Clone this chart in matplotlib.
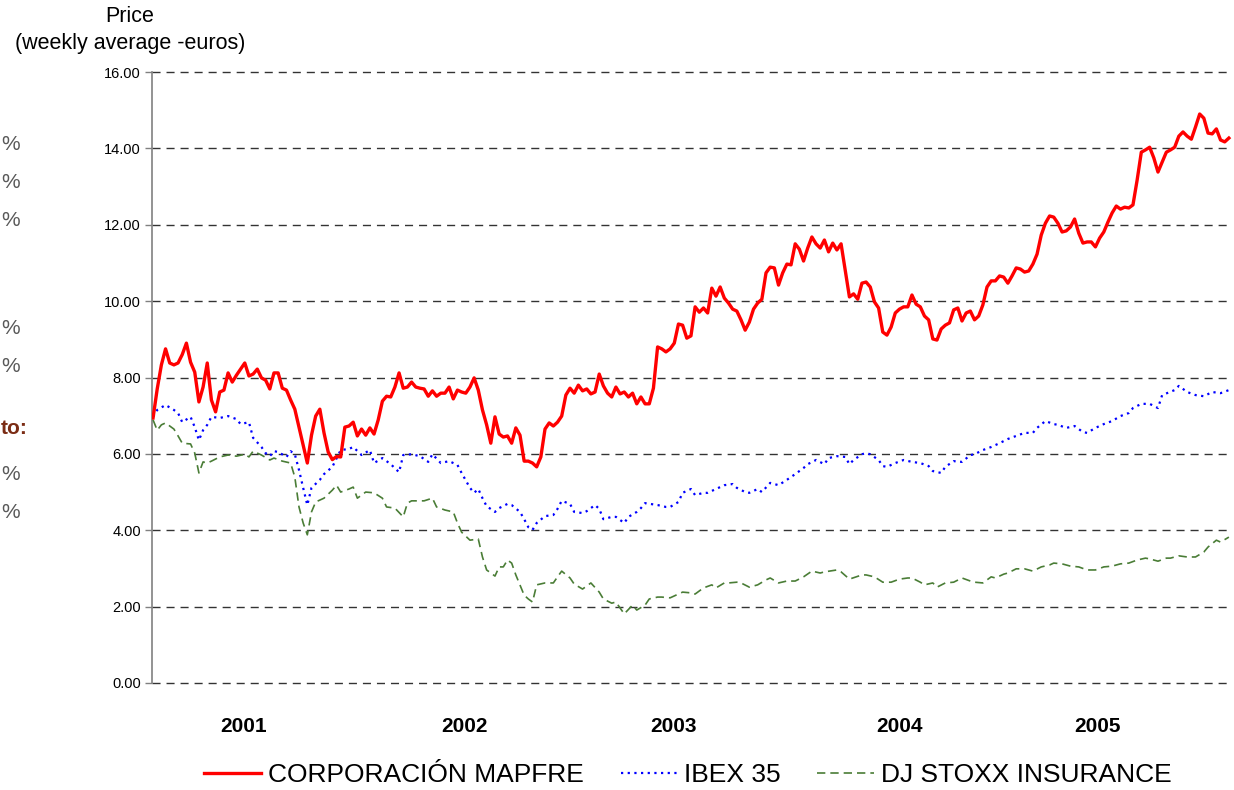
import matplotlib
matplotlib.use("Agg")
import matplotlib.pyplot as plt
from matplotlib.lines import Line2D

plt.rcParams['font.family'] = ['Liberation Sans', 'DejaVu Sans']

# ---------------- data (weekly index from first week of 2001) ----------------
mapfre = [6.94, 7.70, 8.33, 8.75, 8.38, 8.33, 8.38, 8.60, 8.90, 8.40,
          8.14, 7.36, 7.75, 8.38, 7.41, 7.10, 7.62, 7.67, 8.12, 7.88,
          8.06, 8.22, 8.38, 8.04, 8.09, 8.22, 7.99, 7.93, 7.70, 8.12,
          8.12, 7.72, 7.67, 7.41, 7.17, 6.70, 6.23, 5.76, 6.49, 6.99,
          7.17, 6.55, 6.05, 5.85, 5.93, 5.92, 6.70, 6.73, 6.83, 6.47,
          6.65, 6.49, 6.68, 6.52, 6.89, 7.38, 7.51, 7.49, 7.75, 8.12,
          7.72, 7.75, 7.88, 7.75, 7.72, 7.70, 7.51, 7.65, 7.51, 7.59,
          7.59, 7.75, 7.44, 7.67, 7.62, 7.59, 7.75, 7.99, 7.67, 7.15,
          6.76, 6.28, 6.97, 6.52, 6.44, 6.47, 6.28, 6.68, 6.49, 5.81,
          5.81, 5.76, 5.66, 5.92, 6.65, 6.81, 6.73, 6.83, 6.99, 7.54,
          7.72, 7.59, 7.80, 7.65, 7.70, 7.57, 7.62, 8.09, 7.78, 7.59,
          7.49, 7.75, 7.57, 7.62, 7.49, 7.59, 7.31, 7.49, 7.31, 7.31,
          7.72, 8.80, 8.75, 8.67, 8.75, 8.90, 9.40, 9.37, 9.03, 9.09,
          9.85, 9.71, 9.82, 9.69, 10.34, 10.13, 10.37, 10.08, 9.95, 9.79,
          9.74, 9.51, 9.24, 9.45, 9.79, 9.95, 10.05, 10.74, 10.89, 10.87,
          10.42, 10.74, 10.97, 10.95, 11.50, 11.36, 11.05, 11.39, 11.68, 11.50,
          11.39, 11.60, 11.29, 11.52, 11.34, 11.50, 10.81, 10.11, 10.19, 10.05,
          10.47, 10.50, 10.37, 9.98, 9.82, 9.19, 9.11, 9.32, 9.69, 9.79,
          9.85, 9.85, 10.16, 9.92, 9.85, 9.61, 9.51, 9.01, 8.98, 9.27,
          9.37, 9.43, 9.77, 9.82, 9.48, 9.69, 9.74, 9.51, 9.61, 9.90,
          10.37, 10.53, 10.53, 10.66, 10.63, 10.47, 10.66, 10.87, 10.84, 10.76,
          10.79, 10.97, 11.23, 11.73, 12.04, 12.23, 12.20, 12.04, 11.81, 11.84,
          11.94, 12.15, 11.78, 11.52, 11.55, 11.55, 11.42, 11.65, 11.81, 12.07,
          12.31, 12.49, 12.41, 12.46, 12.44, 12.52, 13.17, 13.90, 13.96, 14.03,
          13.75, 13.38, 13.64, 13.90, 13.96, 14.03, 14.32, 14.43, 14.32, 14.24,
          14.56, 14.90, 14.79, 14.40, 14.38, 14.51, 14.22, 14.17, 14.27]
mapfre_weeks = list(range(len(mapfre)))

ibex_weeks = [0, 1, 3, 5, 6, 7, 9, 10, 11, 12, 13, 14, 16, 18, 20, 21, 23, 24, 26, 27,
              28, 29, 30, 32, 33, 34, 35, 36, 37, 38, 40, 41, 43, 45, 47, 48, 50, 52, 53, 55,
              57, 59, 60, 62, 64, 66, 67, 69, 71, 73, 74, 76, 77, 78, 79, 80, 82, 83, 85, 86,
              88, 89, 90, 91, 92, 94, 96, 97, 98, 100, 101, 103, 104, 106, 107, 108, 110, 111, 113, 114,
              116, 117, 118, 121, 123, 124, 126, 127, 129, 130, 132, 133, 135, 137, 139, 140, 142, 143, 145, 146,
              148, 150, 152, 154, 156, 157, 159, 161, 162, 164, 166, 167, 168, 170, 171, 172, 174, 175, 176, 178,
              180, 182, 184, 186, 187, 189, 190, 192, 194, 196, 197, 199, 201, 203, 205, 207, 209, 211, 212, 214,
              216, 217, 219, 221, 223, 224, 226, 228, 230, 232, 234, 235, 237, 239, 241, 242, 245, 246, 248, 250,
              252, 254, 256, 258]
ibex = [6.97, 7.15, 7.28, 7.15, 7.07, 6.83, 6.97, 6.70, 6.36, 6.62, 6.76, 6.97, 6.94, 6.99, 6.91, 6.78, 6.83, 6.42, 6.18, 6.02,
        5.94, 6.07, 6.05, 5.92, 6.07, 5.99, 5.58, 5.11, 4.66, 5.11, 5.32, 5.47, 5.66, 6.10, 6.13, 6.18, 5.97, 6.10, 5.76, 5.89,
        5.73, 5.52, 5.97, 5.99, 5.94, 5.79, 5.99, 5.76, 5.81, 5.71, 5.50, 5.11, 4.98, 5.08, 4.84, 4.63, 4.48, 4.58, 4.69, 4.66,
        4.48, 4.29, 4.08, 4.01, 4.19, 4.37, 4.40, 4.56, 4.77, 4.69, 4.48, 4.45, 4.50, 4.66, 4.56, 4.29, 4.35, 4.35, 4.19, 4.35,
        4.48, 4.58, 4.71, 4.66, 4.61, 4.61, 4.74, 4.98, 5.08, 4.92, 4.98, 4.98, 5.08, 5.18, 5.21, 5.11, 5.00, 4.98, 5.08, 5.00,
        5.24, 5.18, 5.32, 5.47, 5.63, 5.73, 5.84, 5.73, 5.89, 5.94, 5.92, 5.73, 5.84, 5.99, 6.02, 5.99, 5.84, 5.68, 5.66, 5.76,
        5.84, 5.79, 5.76, 5.68, 5.55, 5.50, 5.66, 5.81, 5.79, 5.97, 5.99, 6.10, 6.18, 6.28, 6.39, 6.47, 6.55, 6.55, 6.68, 6.86,
        6.78, 6.76, 6.68, 6.73, 6.57, 6.55, 6.68, 6.78, 6.86, 6.99, 7.07, 7.20, 7.31, 7.31, 7.20, 7.54, 7.67, 7.78, 7.62, 7.54,
        7.51, 7.62, 7.59, 7.67]

stoxx_weeks = [0, 1, 2, 3, 5, 6, 7, 9, 10, 11, 12, 13, 14, 16, 18, 20, 22, 23, 24, 26,
               28, 29, 31, 33, 34, 35, 36, 37, 38, 39, 41, 43, 44, 45, 47, 48, 49, 51, 53, 55,
               56, 58, 60, 61, 62, 65, 67, 68, 70, 72, 73, 74, 76, 78, 79, 80, 82, 83, 84, 85,
               86, 87, 89, 90, 91, 92, 94, 96, 97, 98, 100, 101, 103, 105, 107, 108, 110, 111, 113, 115,
               116, 118, 119, 121, 122, 124, 126, 127, 129, 130, 132, 134, 135, 137, 138, 140, 141, 143, 145, 147,
               148, 150, 152, 154, 156, 158, 160, 161, 164, 165, 167, 170, 171, 173, 175, 177, 179, 181, 182, 184,
               185, 187, 188, 190, 192, 194, 196, 197, 199, 201, 202, 204, 205, 207, 209, 211, 213, 215, 216, 218,
               220, 222, 224, 226, 228, 230, 232, 234, 236, 238, 239, 241, 243, 244, 246, 248, 250, 252, 253, 255,
               256, 258]
stoxx = [6.89, 6.62, 6.76, 6.81, 6.65, 6.47, 6.28, 6.26, 6.02, 5.50, 5.79, 5.76, 5.81, 5.92, 5.97, 5.94, 5.99, 5.92, 6.07, 5.97,
         5.84, 5.89, 5.81, 5.76, 5.39, 4.61, 4.19, 3.88, 4.48, 4.74, 4.84, 5.05, 5.18, 5.00, 5.08, 5.13, 4.84, 5.00, 4.98, 4.84,
         4.61, 4.58, 4.35, 4.71, 4.77, 4.77, 4.84, 4.61, 4.53, 4.48, 4.19, 3.95, 3.74, 3.77, 3.30, 2.96, 2.80, 3.04, 3.04, 3.22,
         3.14, 2.83, 2.30, 2.20, 2.12, 2.57, 2.62, 2.62, 2.78, 2.93, 2.75, 2.59, 2.46, 2.62, 2.38, 2.20, 2.09, 2.12, 1.81, 2.04,
         1.91, 2.04, 2.20, 2.25, 2.25, 2.23, 2.33, 2.38, 2.36, 2.33, 2.49, 2.57, 2.49, 2.62, 2.62, 2.64, 2.62, 2.51, 2.57, 2.70,
         2.75, 2.62, 2.67, 2.67, 2.78, 2.93, 2.88, 2.91, 2.96, 2.91, 2.72, 2.83, 2.83, 2.78, 2.64, 2.64, 2.72, 2.75, 2.75, 2.64,
         2.57, 2.62, 2.51, 2.62, 2.64, 2.75, 2.67, 2.64, 2.62, 2.78, 2.75, 2.85, 2.88, 2.99, 2.99, 2.93, 3.04, 3.09, 3.14, 3.12,
         3.06, 3.04, 2.96, 2.96, 3.04, 3.06, 3.12, 3.14, 3.22, 3.27, 3.25, 3.19, 3.27, 3.27, 3.33, 3.30, 3.30, 3.43, 3.56, 3.74,
         3.69, 3.82]

year_labels = ['2001', '2002', '2003', '2004', '2005']
year_label_weeks = [21.6, 74.8, 124.9, 179.1, 226.4]
y_ticks = [0, 2, 4, 6, 8, 10, 12, 14, 16]
series_names = ['CORPORACIÓN MAPFRE', 'IBEX 35', 'DJ STOXX INSURANCE']
side_pct_y = [145, 183, 221, 328, 367, 475, 513]   # pixel rows of cut-off side text

# ---------------- figure ----------------
W, H = 1234, 790
fig = plt.figure(figsize=(W / 100, H / 100), dpi=100)
ax = fig.add_axes([152 / W, 1 - 683 / H, (1232 - 152) / W, (683 - 72) / H])

red_c, blue_c, green_c = '#FF0000', '#0000FF', '#4A7D36'
ax.plot(mapfre_weeks, mapfre, color=red_c, lw=2.4, solid_joinstyle='round', zorder=5)
ax.plot(ibex_weeks, ibex, color=blue_c, lw=1.6, linestyle=(0, (1, 2)), zorder=4)
ax.plot(stoxx_weeks, stoxx, color=green_c, lw=1.2, linestyle=(0, (5, 3)), zorder=3)

ax.set_xlim(-0.25, 258.75)
ax.set_ylim(0, 16)
ax.set_yticks(y_ticks)
ax.set_yticklabels([f'{v:.2f}' for v in y_ticks], fontsize=10.5, color='#000000')
ax.tick_params(axis='y', length=5, width=1, color='#808080', pad=3)
ax.set_xticks([])
for s in ['top', 'right', 'bottom']:
    ax.spines[s].set_visible(False)
ax.spines['left'].set_color('#808080')
ax.spines['left'].set_linewidth(1.2)
for v in y_ticks:
    ax.axhline(v, color='#333333', lw=1.0, linestyle=(0, (5.8, 4.3)), zorder=1, clip_on=False)

for lab, wk in zip(year_labels, year_label_weeks):
    ax.text(wk, -1.15, lab, ha='center', va='center', fontsize=15, fontweight='bold',
            color='#000000', clip_on=False)

fig.text(130 / W, 1 - 17 / H, 'Price', ha='center', va='center', fontsize=15.5, color='#000000')
fig.text(130 / W, 1 - 43 / H, '(weekly average -euros)', ha='center', va='center',
         fontsize=15.5, color='#000000')

for yp in side_pct_y:
    fig.text(20 / W, 1 - yp / H, '%', ha='right', va='center', fontsize=15, color='#595959')
fig.text(28 / W, 1 - 428 / H, 'to:', ha='right', va='center', fontsize=15,
         fontweight='bold', color='#7B2C14')

handles = [Line2D([], [], color=red_c, lw=2.4),
           Line2D([], [], color=blue_c, lw=1.6, linestyle=(0, (1, 2))),
           Line2D([], [], color=green_c, lw=1.2, linestyle=(0, (5, 3)))]
fig.legend(handles, series_names, loc='center', bbox_to_anchor=(688 / W, 1 - 775 / H),
           ncol=3, frameon=False, fontsize=19, handlelength=2.15, handletextpad=0.25,
           columnspacing=1.4, borderaxespad=0)

fig.savefig('out.png', dpi=100)
